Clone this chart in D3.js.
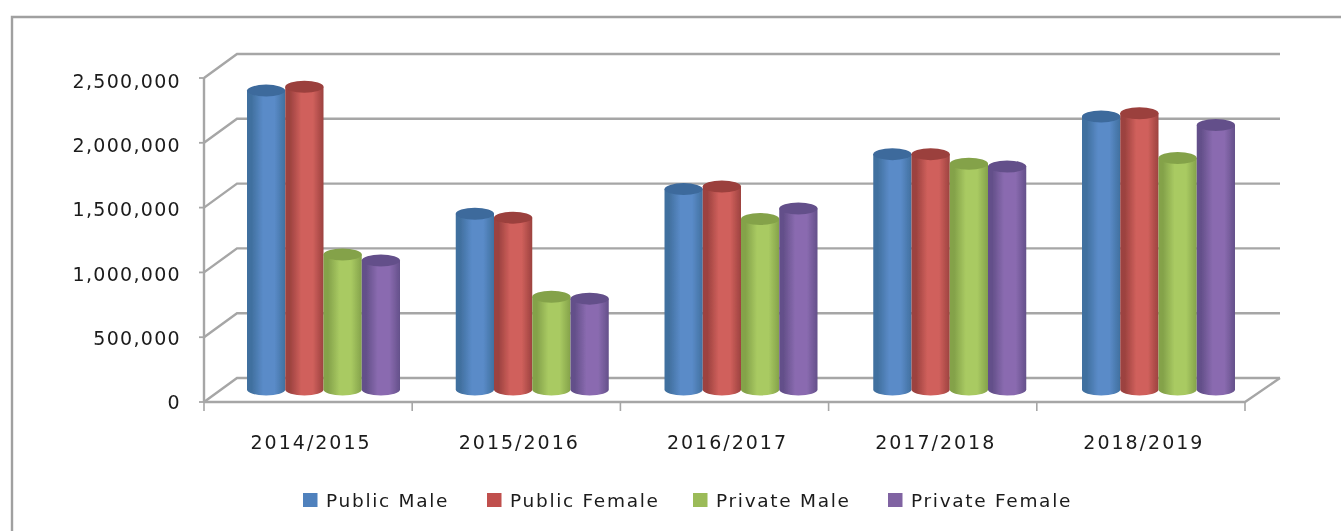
<!DOCTYPE html>
<html><head><meta charset="utf-8">
<script src="https://cdn.jsdelivr.net/npm/d3@7"></script>
<style>html,body{margin:0;padding:0;background:#fff;overflow:hidden}svg{display:block}text{font-family:"DejaVu Sans",sans-serif;fill:#1a1a1a}</style>
</head><body><svg id="c" width="1341" height="531"></svg>
<script>
const categories=["2014/2015","2015/2016","2016/2017","2017/2018","2018/2019"];
const seriesNames=["Public Male","Public Female","Private Male","Private Female"];
const publicMale=[2310000,1360000,1550000,1820000,2110000];
const publicFemale=[2340000,1330000,1570000,1820000,2135000];
const privateMale=[1045000,720000,1320000,1745000,1790000];
const privateFemale=[1000000,705000,1400000,1725000,2045000];
const yTicks=[0,500000,1000000,1500000,2000000,2500000];
const seriesValues=[publicMale,publicFemale,privateMale,privateFemale];
const colors=[["#41709f","#5a8bc8","#4f81bd","#3d6a9c"],["#9c423f","#d0605c","#c0504d","#9b3f3c"],["#84a24a","#a9ca62","#9bbb59","#84a24a"],["#64508a","#8a6bb0","#8064a2","#64508a"]];

const svg=d3.select("#c");
const defs=svg.append("defs");
colors.forEach((c,i)=>{
  const g=defs.append("linearGradient").attr("id","g"+i);
  [[0,c[0]],[.12,c[0]],[.42,c[1]],[.72,c[1]],[1,c[0]]].forEach(s=>g.append("stop").attr("offset",s[0]).attr("stop-color",s[1]));
});
defs.append("filter").attr("id","soft").append("feGaussianBlur").attr("stdDeviation",0.5);
defs.append("filter").attr("id","softText").append("feGaussianBlur").attr("stdDeviation",0.3);

const x=d3.scaleBand().domain(categories).range([204,1245]);
const groupX=d3.scaleBand().domain(categories).range([247,247+5*208.75]);
const y=d3.scaleLinear().domain([0,2500000]).range([402,78]);
const labelY=d3.scaleLinear().domain([0,2500000]).range([409,88]);
const dx=33,dy=-24, gridCol="#a6a6a6";
const barX=d3.scaleBand().domain(d3.range(4)).range([0,153]);
const base=-12;

svg.append("path").attr("d","M12,531V17H1341").attr("fill","none").attr("stroke","#a0a0a0").attr("stroke-width",2.4);

const axes=svg.append("g").attr("filter","url(#soft)").attr("fill","none").attr("stroke",gridCol).attr("stroke-width",2.4);
yTicks.forEach(t=>{
  axes.append("path").attr("d",`M${x.range()[0]},${y(t)}L${x.range()[0]+dx},${y(t)+dy}H${x.range()[1]+35}`);
  axes.append("path").attr("d",`M${x.range()[0]-5},${y(t)}H${x.range()[0]}`).attr("stroke-width",1.8);
});
axes.append("path").attr("d",`M${x.range()[0]},${y(0)}V${y(2500000)}`);
axes.append("path").attr("d",`M${x.range()[0]},${y(0)}H${x.range()[1]}L${x.range()[1]+35},${y(0)+dy}`);
categories.concat([null]).forEach(c=>{
  const px=c?x(c):x.range()[1];
  axes.append("path").attr("d",`M${px},${y(0)}v9`).attr("stroke-width",1.6);
});

const bars=svg.append("g").attr("filter","url(#soft)");
categories.forEach((c,ci)=>{
  seriesValues.forEach((vals,si)=>{
    const bw=barX.bandwidth(), l=groupX(c)+barX(si), r=l+bw, rx=bw/2;
    const top=y(vals[ci])+base, bot=y(0)+base-0.5;
    bars.append("path").attr("d",`M${l},${top}V${bot}A${rx},6 0 0 0 ${r},${bot}V${top}Z`).attr("fill",`url(#g${si})`);
    bars.append("ellipse").attr("cx",l+rx).attr("cy",top).attr("rx",rx).attr("ry",6).attr("fill",colors[si][3]);
  });
});

const labels=svg.append("g").attr("filter","url(#softText)");
const tickLabels=labels.append("g").attr("font-size",19).attr("letter-spacing",1.3);
yTicks.forEach(t=>tickLabels.append("text").attr("x",181).attr("y",labelY(t)).attr("text-anchor","end").text(d3.format(",")(t)));
const catLabels=labels.append("g").attr("font-size",19).attr("letter-spacing",2);
categories.forEach(c=>catLabels.append("text").attr("x",x(c)+x.bandwidth()/2+3).attr("y",449).attr("text-anchor","middle").text(c));

const legX=[303,487,693,888];
const legend=labels.append("g").attr("font-size",18.5).attr("letter-spacing",1.7);
seriesNames.forEach((n,i)=>{
  legend.append("rect").attr("x",legX[i]).attr("y",493).attr("width",14.5).attr("height",14).attr("fill",colors[i][2]);
  legend.append("text").attr("x",legX[i]+23).attr("y",507).text(n);
});
</script></body></html>
